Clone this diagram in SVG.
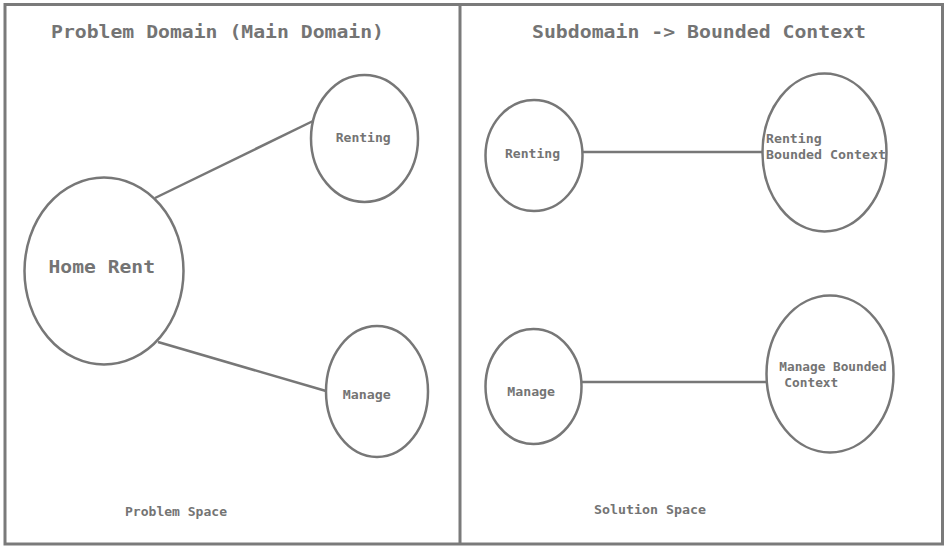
<svg xmlns="http://www.w3.org/2000/svg" width="949" height="550" viewBox="0 0 949 550">
<style>
.frame{fill:none;stroke:#7a7a7a;stroke-width:3}
.node{fill:#fff;stroke:#777;stroke-width:2.5}
.edge{stroke:#777;stroke-width:2.5;fill:none}
text{font-family:"DejaVu Sans Mono","Liberation Mono",monospace;font-weight:bold;fill:#747474}
.big{font-size:17.5px}
.sm{font-size:12px}
.xs{font-size:11.5px}
</style>
<rect width="949" height="550" fill="#fff"/>
<g id="frame">
<rect class="frame" x="5" y="4.5" width="937.5" height="539.5"/>
<line class="frame" x1="460" y1="4.5" x2="460" y2="544"/>
</g>
<g id="titles">
<text class="big" x="51" y="37.7" textLength="333" lengthAdjust="spacingAndGlyphs">Problem Domain (Main Domain)</text>
<text class="big" x="532" y="37.7" textLength="334" lengthAdjust="spacingAndGlyphs">Subdomain -&gt; Bounded Context</text>
<text class="xs" x="125" y="516" textLength="102" lengthAdjust="spacingAndGlyphs">Problem Space</text>
<text class="xs" x="594" y="514.3" textLength="112" lengthAdjust="spacingAndGlyphs">Solution Space</text>
</g>
<g id="connectors">
<line class="edge" x1="155" y1="198" x2="313" y2="121"/>
<line class="edge" x1="158" y1="342" x2="326" y2="391"/>
<line class="edge" x1="583" y1="152" x2="763" y2="152"/>
<line class="edge" x1="582" y1="382" x2="767" y2="382"/>
</g>
<g id="home-rent">
<ellipse class="node" cx="104" cy="271" rx="79.5" ry="93.5"/>
<text class="big" x="48.5" y="272.7" textLength="106.5" lengthAdjust="spacingAndGlyphs">Home Rent</text>
</g>
<g id="renting-problem">
<ellipse class="node" cx="364.5" cy="138.5" rx="53.5" ry="63.5"/>
<text class="sm" x="335.7" y="141.7" textLength="55" lengthAdjust="spacingAndGlyphs">Renting</text>
</g>
<g id="manage-problem">
<ellipse class="node" cx="377" cy="391.5" rx="51" ry="65.5"/>
<text class="sm" x="342.7" y="399.3" textLength="48" lengthAdjust="spacingAndGlyphs">Manage</text>
</g>
<g id="renting-sub">
<ellipse class="node" cx="534" cy="155.5" rx="48.5" ry="55.5"/>
<text class="sm" x="505" y="158.3" textLength="55" lengthAdjust="spacingAndGlyphs">Renting</text>
</g>
<g id="manage-sub">
<ellipse class="node" cx="533.5" cy="386.5" rx="48" ry="57.5"/>
<text class="sm" x="507.3" y="396" textLength="47.7" lengthAdjust="spacingAndGlyphs">Manage</text>
</g>
<g id="renting-bc">
<ellipse class="node" cx="824.5" cy="152.5" rx="62" ry="79"/>
<text class="sm" x="766" y="142.7" textLength="55.7" lengthAdjust="spacingAndGlyphs">Renting</text>
<text class="sm" x="766" y="159.3" textLength="120" lengthAdjust="spacingAndGlyphs">Bounded Context</text>
</g>
<g id="manage-bc">
<ellipse class="node" cx="830" cy="374" rx="63.5" ry="78.5"/>
<text class="sm" x="779.3" y="370.7" textLength="107.4" lengthAdjust="spacingAndGlyphs">Manage Bounded</text>
<text class="sm" x="784.3" y="387.3" textLength="54" lengthAdjust="spacingAndGlyphs">Context</text>
</g>
</svg>
